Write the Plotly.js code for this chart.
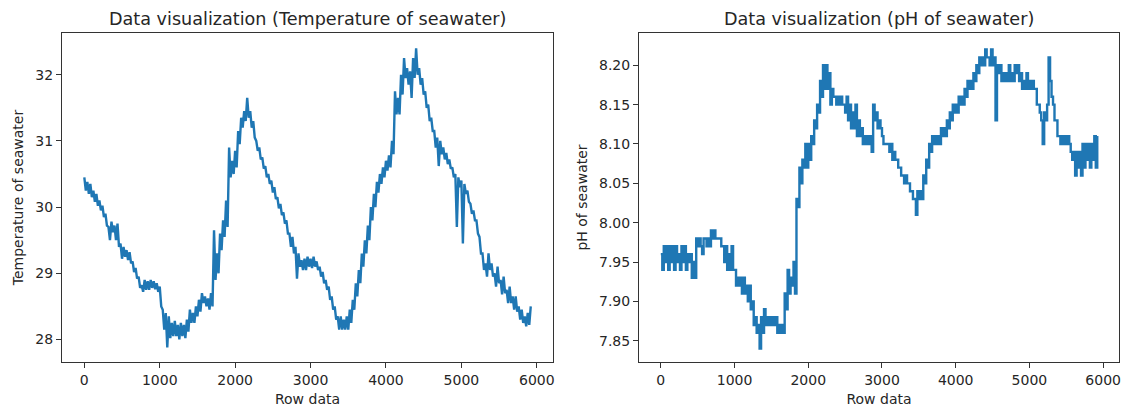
<!DOCTYPE html>
<html>
<head>
<meta charset="utf-8">
<script src="https://cdn.plot.ly/plotly-3.0.1.min.js"></script>
<style>
html,body{margin:0;padding:0;background:#fff;}
#chart{width:1125px;height:410px;}
</style>
</head>
<body>
<div id="chart"></div>
<script>
// Row spacing of the sampled readings (every 20th row)
const rowStep = 20;

// Temperature of seawater, sampled every 20 rows (0 .. 5920)
const temperature = [
30.45,30.25, 30.38,30.20, 30.35,30.15, 30.25,30.08, 30.20,30.02,
30.10,29.95, 30.02,29.85, 29.90,29.72, 29.70,29.50, 29.78,29.62,
29.72,29.50, 29.75,29.40, 29.45,29.22, 29.40,29.25, 29.35,29.20,
29.32,29.15, 29.18,29.02, 29.08,28.92, 28.95,28.78, 28.82,28.72,
28.90,28.75, 28.88,28.75, 28.90,28.78, 28.88,28.76, 28.85,28.72,
28.80,28.50, 28.45,28.15, 28.40,27.88, 28.35,28.02, 28.25,28.05,
28.28,28.05, 28.22,28.00, 28.25,28.05, 28.22,28.02, 28.30,28.12,
28.45,28.25, 28.40,28.25, 28.50,28.35, 28.60,28.42, 28.70,28.55,
28.65,28.50, 28.62,28.45, 28.70,28.50, 29.65,28.90, 29.30,29.00,
29.60,29.35, 29.80,29.55, 30.10,29.70, 30.90,30.45, 30.70,30.50,
30.85,30.60, 31.15,30.95, 31.35,31.20, 31.45,31.30, 31.65,31.35,
31.45,31.20, 31.30,31.05, 31.00,30.85, 30.90,30.72, 30.75,30.58,
30.62,30.45, 30.50,30.35, 30.40,30.22, 30.30,30.12, 30.15,29.98,
30.05,29.88, 29.92,29.75, 29.80,29.60, 29.60,29.40, 29.55,29.30,
29.40,28.92, 29.30,29.10, 29.20,29.05, 29.22,29.05, 29.25,29.10,
29.22,29.08, 29.25,29.10, 29.18,29.05, 29.10,28.95, 29.02,28.85,
28.90,28.75, 28.80,28.60, 28.65,28.45, 28.50,28.30, 28.35,28.15,
28.35,28.15, 28.30,28.15, 28.35,28.15, 28.45,28.25, 28.60,28.45,
28.85,28.65, 29.05,28.85, 29.30,29.10, 29.50,29.30, 29.72,29.50,
30.00,29.80, 30.20,30.00, 30.38,30.22, 30.50,30.35, 30.60,30.45,
30.70,30.55, 30.78,30.60, 31.00,30.80, 31.75,31.40, 31.65,31.40,
32.00,31.70, 32.25,31.95, 32.10,31.85, 32.05,31.65, 32.25,31.95,
32.40,32.00, 32.10,31.85, 31.95,31.70, 31.75,31.50, 31.55,31.30,
31.35,31.15, 31.15,30.90, 31.05,30.62, 31.00,30.80, 30.90,30.72,
30.82,30.65, 30.72,30.58, 30.60,30.45, 30.50,29.70, 30.45,30.30,
30.40,29.45, 30.35,30.20, 30.25,30.08, 30.05,29.90, 29.95,29.80,
29.80,29.60, 29.55,29.30, 29.30,29.05, 29.15,28.95, 29.30,29.05,
29.15,28.95, 29.00,28.80, 29.10,28.85, 28.90,28.68, 28.95,28.70,
28.75,28.55, 28.80,28.55, 28.65,28.45, 28.65,28.42, 28.50,28.30,
28.45,28.25, 28.35,28.20, 28.40,28.22, 28.50
];

// pH of seawater, sampled every 20 rows (0 .. 5920)
const ph = [
7.96,7.94, 7.97,7.95, 7.97,7.94, 7.97,7.95, 7.97,7.94,
7.97,7.95, 7.96,7.94, 7.97,7.95, 7.97,7.94, 7.96,7.95,
7.96,7.93, 7.95,7.93, 7.98,7.97, 7.98,7.97, 7.96,7.98,
7.98,7.97, 7.98,7.97, 7.99,7.98, 7.99,7.98, 7.98,7.98,
7.98,7.97, 7.97,7.95, 7.97,7.94, 7.96,7.94, 7.97,7.94,
7.94,7.92, 7.93,7.92, 7.93,7.91, 7.93,7.91, 7.92,7.90,
7.92,7.89, 7.90,7.87, 7.88,7.86, 7.87,7.84, 7.88,7.86,
7.89,7.87, 7.88,7.87, 7.88,7.87, 7.88,7.87, 7.88,7.86,
7.87,7.86, 7.87,7.86, 7.91,7.89, 7.94,7.91, 7.93,7.92,
7.95,7.91, 8.03,8.02, 8.07,8.05, 8.08,8.07, 8.10,8.07,
8.10,8.08, 8.11,8.10, 8.13,8.12, 8.15,8.14, 8.18,8.16,
8.20,8.17, 8.20,8.17, 8.19,8.15, 8.17,8.16, 8.16,8.15,
8.16,8.15, 8.16,8.15, 8.15,8.14, 8.16,8.13, 8.15,8.12,
8.14,8.12, 8.15,8.11, 8.13,8.11, 8.12,8.10, 8.11,8.10,
8.11,8.10, 8.11,8.09, 8.15,8.13, 8.14,8.12, 8.13,8.12,
8.11,8.10, 8.10,8.10, 8.10,8.09, 8.10,8.08, 8.09,8.08,
8.08,8.07, 8.07,8.06, 8.06,8.05, 8.06,8.05, 8.05,8.04,
8.04,8.03, 8.03,8.01, 8.04,8.03, 8.04,8.03, 8.06,8.05,
8.08,8.07, 8.10,8.09, 8.11,8.10, 8.11,8.10, 8.11,8.10,
8.12,8.11, 8.12,8.11, 8.13,8.12, 8.14,8.13, 8.15,8.14,
8.15,8.14, 8.16,8.15, 8.16,8.15, 8.17,8.16, 8.18,8.17,
8.18,8.17, 8.19,8.18, 8.20,8.19, 8.21,8.20, 8.21,8.20,
8.22,8.21, 8.21,8.20, 8.22,8.20, 8.21,8.13, 8.20,8.19,
8.20,8.18, 8.19,8.18, 8.19,8.18, 8.20,8.18, 8.19,8.18,
8.20,8.19, 8.20,8.18, 8.19,8.17, 8.18,8.17, 8.19,8.17,
8.18,8.17, 8.18,8.17, 8.17,8.15, 8.15,8.14, 8.13,8.10,
8.14,8.13, 8.15,8.21, 8.18,8.16, 8.15,8.13, 8.13,8.11,
8.11,8.10, 8.11,8.10, 8.11,8.10, 8.11,8.10, 8.09,8.08,
8.09,8.06, 8.09,8.07, 8.09,8.06, 8.10,8.07, 8.10,8.08,
8.10,8.07, 8.10,8.08, 8.11,8.07, 8.11
];

const xTickValues = [0, 1000, 2000, 3000, 4000, 5000, 6000];
const tempTickValues = [28, 29, 30, 31, 32];
const phTickValues = [7.85, 7.90, 7.95, 8.00, 8.05, 8.10, 8.15, 8.20];
const phTickLabels = ["7.85", "7.90", "7.95", "8.00", "8.05", "8.10", "8.15", "8.20"];

const titles = {
  left: "Data visualization (Temperature of seawater)",
  right: "Data visualization (pH of seawater)",
  x: "Row data",
  yLeft: "Temperature of seawater",
  yRight: "pH of seawater"
};

const rowsTemp = temperature.map((_, k) => k * rowStep);
const rowsPh = ph.map((_, k) => k * rowStep);

const blue = "#1f77b4";
const textColor = "#262626";
const font = {family: "DejaVu Sans, sans-serif", size: 14, color: textColor};

const traces = [
  {x: rowsTemp, y: temperature, type: "scatter", mode: "lines",
   line: {color: blue, width: 2.4}, xaxis: "x", yaxis: "y", hoverinfo: "skip"},
  {x: rowsPh, y: ph, type: "scatter", mode: "lines",
   line: {color: blue, width: 2.4, shape: "hv"}, xaxis: "x2", yaxis: "y2", hoverinfo: "skip"}
];

const axisCommon = {
  showgrid: false, zeroline: false,
  showline: true, linecolor: "#333", linewidth: 1, mirror: true,
  ticks: "outside", ticklen: 5, tickwidth: 1, tickcolor: "#333",
  tickfont: {family: "DejaVu Sans, sans-serif", size: 14, color: textColor}
};

const W = 1125, H = 410;
const yDom = [(H - 362) / H, (H - 33) / H];
const titleFont = {family: "DejaVu Sans, sans-serif", size: 17.6, color: textColor};

const layout = {
  width: W, height: H,
  margin: {l: 0, r: 0, t: 0, b: 0},
  paper_bgcolor: "#fff", plot_bgcolor: "#fff",
  showlegend: false,
  font: font,
  xaxis: Object.assign({}, axisCommon, {
    domain: [62 / W, 553 / W], range: [-296, 6215],
    tickvals: xTickValues, ticktext: xTickValues.map(String),
    anchor: "y",
    title: {text: titles.x, font: font, standoff: 7}
  }),
  yaxis: Object.assign({}, axisCommon, {
    domain: yDom, range: [27.66, 32.63],
    tickvals: tempTickValues, ticktext: tempTickValues.map(String),
    anchor: "x",
    title: {text: titles.yLeft, font: font, standoff: 8}
  }),
  xaxis2: Object.assign({}, axisCommon, {
    domain: [639 / W, 1119 / W], range: [-296, 6215],
    tickvals: xTickValues, ticktext: xTickValues.map(String),
    anchor: "y2",
    title: {text: titles.x, font: font, standoff: 7}
  }),
  yaxis2: Object.assign({}, axisCommon, {
    domain: yDom, range: [7.823, 8.241],
    tickvals: phTickValues, ticktext: phTickLabels,
    anchor: "x2",
    title: {text: titles.yRight, font: font, standoff: 8}
  }),
  annotations: [
    {text: titles.left, xref: "x domain", yref: "paper", x: 0.5, y: 1 - 33 / H,
     xanchor: "center", yanchor: "bottom", yshift: 2, showarrow: false,
     font: titleFont},
    {text: titles.right, xref: "x2 domain", yref: "paper", x: 0.5, y: 1 - 33 / H,
     xanchor: "center", yanchor: "bottom", yshift: 2, showarrow: false,
     font: titleFont}
  ]
};

Plotly.newPlot("chart", traces, layout, {staticPlot: true, displayModeBar: false});
</script>
</body>
</html>
